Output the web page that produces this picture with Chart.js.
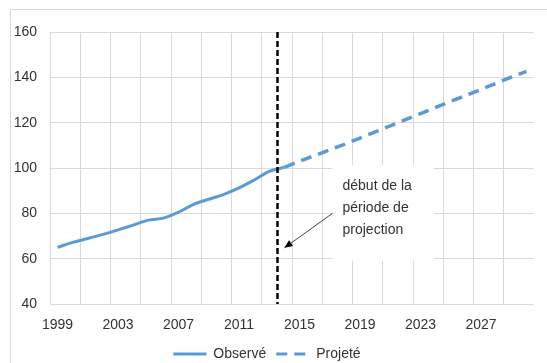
<!DOCTYPE html>
<html>
<head>
<meta charset="utf-8">
<script src="https://cdn.jsdelivr.net/npm/chart.js@4"></script>
<style>
    html, body { margin: 0; padding: 0; background: #fff; }
    #wrap { width: 547px; height: 363px; }
</style>
</head>
<body>
<div id="wrap"><canvas id="chart"></canvas></div>
<script>
// Data
const years = [1999, 2000, 2001, 2002, 2003, 2004, 2005, 2006, 2007, 2008, 2009, 2010, 2011, 2012, 2013, 2014,
               2015, 2016, 2017, 2018, 2019, 2020, 2021, 2022, 2023, 2024, 2025, 2026, 2027, 2028, 2029, 2030];
const labelYears = [1999, 2003, 2007, 2011, 2015, 2019, 2023, 2027];

// 1999 - 2014
const observedValues = [65, 67.2, 68.9, 70.7, 72.7, 74.8, 77, 77.9, 80.5, 84, 86.2, 88.4, 91.2, 94.7, 98.5, 100.3];
// 2014 - 2030
const projectedValues = [100.3, 103, 105.5, 108, 110.5, 113.2, 115.9, 118.6, 121.3, 124, 126.7, 129.4, 132, 134.7, 137.4, 140.1, 142.6];

const yMin = 40, yMax = 160, yStep = 20;
const lastObservedYear = 2014;
const projectionStartYear = 2014; // dashed marker sits just before this year
const annotationLines = ['début de la', 'période de', 'projection'];

const blue = '#5b9bd5';
const gridColor = '#d9d9d9';
const textColor = '#333333';
const fontFamily = "'Liberation Sans', Arial, sans-serif";

// Pad the series out to the full year range
const observedData = years.map(y => {
    const i = y - years[0];
    return y <= lastObservedYear ? observedValues[i] : null;
});
const projectedData = years.map(y => {
    const i = y - projectionStartYear;
    return i >= 0 ? projectedValues[i] : null;
});

// Outer frame round the whole chart
const framePlugin = {
    id: 'frame',
    beforeDraw(chart) {
        const ctx = chart.ctx;
        ctx.save();
        ctx.strokeStyle = gridColor;
        ctx.lineWidth = 1;
        ctx.strokeRect(10.5, 9.5, chart.width + 10, chart.height + 10);
        ctx.restore();
    }
};

// Vertical marker + text box with arrow
const markerPlugin = {
    id: 'marker',
    afterDatasetsDraw(chart) {
        const ctx = chart.ctx;
        const xs = chart.scales.x;
        const ys = chart.scales.y;
        const area = chart.chartArea;
        const idx = years.indexOf(projectionStartYear);
        const lineX = Math.round((xs.getPixelForValue(idx - 1) + xs.getPixelForValue(idx)) / 2) + 0.5;

        ctx.save();
        // white box behind the text
        const boxTop = ys.getPixelForValue(100) - 3;
        const boxBottom = ys.getPixelForValue(60) + 2;
        ctx.fillStyle = '#ffffff';
        ctx.fillRect(lineX + 55, boxTop, 101, boxBottom - boxTop);

        // dashed black line
        ctx.strokeStyle = '#000000';
        ctx.lineWidth = 2.5;
        ctx.setLineDash([6, 3]);
        ctx.beginPath();
        ctx.moveTo(lineX, area.top);
        ctx.lineTo(lineX, area.bottom);
        ctx.stroke();
        ctx.setLineDash([]);

        // text
        ctx.fillStyle = textColor;
        ctx.font = '14px ' + fontFamily;
        ctx.textBaseline = 'middle';
        ctx.textAlign = 'left';
        const base = ys.getPixelForValue(100);
        annotationLines.forEach((line, i) => {
            ctx.fillText(line, lineX + 65, base + 18 + i * 22);
        });

        // arrow
        const x1 = lineX + 55, y1 = ys.getPixelForValue(80);
        const x2 = lineX + 7, y2 = ys.getPixelForValue(64.8);
        ctx.strokeStyle = '#404040';
        ctx.fillStyle = '#000000';
        ctx.lineWidth = 1;
        ctx.beginPath();
        ctx.moveTo(x1, y1);
        ctx.lineTo(x2, y2);
        ctx.stroke();
        const ang = Math.atan2(y2 - y1, x2 - x1);
        const len = 8, half = 3.5;
        ctx.beginPath();
        ctx.moveTo(x2, y2);
        ctx.lineTo(x2 - len * Math.cos(ang) + half * Math.sin(ang), y2 - len * Math.sin(ang) - half * Math.cos(ang));
        ctx.lineTo(x2 - len * Math.cos(ang) - half * Math.sin(ang), y2 - len * Math.sin(ang) + half * Math.cos(ang));
        ctx.closePath();
        ctx.fill();
        ctx.restore();
    }
};

Chart.defaults.font.family = fontFamily;
Chart.defaults.font.size = 14;
Chart.defaults.color = textColor;

new Chart(document.getElementById('chart'), {
    type: 'line',
    data: {
        labels: years.map(String),
        datasets: [
            {
                label: 'Observé',
                data: observedData,
                borderColor: blue,
                backgroundColor: blue,
                borderWidth: 3,
                pointRadius: 0,
                pointStyle: 'line',
                tension: 0.3
            },
            {
                label: 'Projeté',
                data: projectedData,
                borderColor: blue,
                backgroundColor: blue,
                borderWidth: 3.5,
                borderDash: [11, 7],
                pointRadius: 0,
                pointStyle: 'line',
                tension: 0
            }
        ]
    },
    options: {
        responsive: true,
        maintainAspectRatio: false,
        animation: false,
        events: [],
        // legend box carries some slack below the items, let it hang off the canvas
        layout: { padding: { left: 0, right: 13, top: 32, bottom: -8 } },
        scales: {
            x: {
                offset: true,
                grid: {
                    offset: true,
                    drawTicks: false,
                    color: ctx => (ctx.index % 2 === 0 ? gridColor : 'rgba(0,0,0,0)')
                },
                border: { display: false },
                ticks: {
                    autoSkip: false,
                    maxRotation: 0,
                    padding: 13,
                    callback: function(value, index) {
                        return labelYears.includes(years[index]) ? String(years[index]) : '';
                    }
                },
                afterFit: scale => { scale.height = 33; }
            },
            y: {
                min: yMin,
                max: yMax,
                ticks: { stepSize: yStep, padding: 13 },
                grid: { color: gridColor, drawTicks: false },
                border: { display: false },
                afterFit: scale => { scale.width = 50; }
            }
        },
        plugins: {
            legend: {
                position: 'bottom',
                labels: {
                    usePointStyle: true,
                    pointStyleWidth: 33,
                    boxHeight: 14,
                    padding: 10,
                    font: { size: 14 },
                    color: textColor,
                    generateLabels: chart => {
                        const items = Chart.defaults.plugins.legend.labels.generateLabels(chart);
                        items.forEach(item => {
                            const ds = chart.data.datasets[item.datasetIndex];
                            item.lineDash = ds.borderDash || [];
                            item.lineWidth = 3;
                            item.strokeStyle = ds.borderColor;
                        });
                        return items;
                    }
                }
            },
            tooltip: { enabled: false }
        }
    },
    plugins: [framePlugin, markerPlugin]
});
</script>
</body>
</html>
